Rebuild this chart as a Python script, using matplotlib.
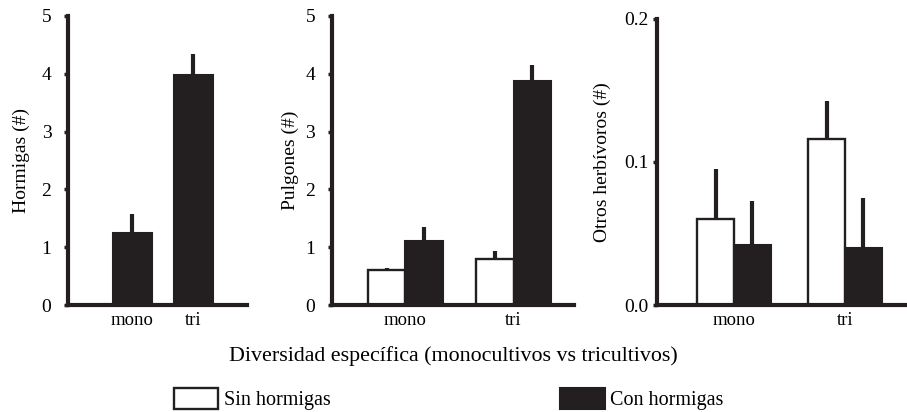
import matplotlib
matplotlib.use('Agg')
import matplotlib.pyplot as plt
import numpy as np

# ── Data ──────────────────────────────────────────────────────
groups = ["mono", "tri"]

# Hormigas: only plots with ants
hormigas_con     = [1.25, 3.98]
hormigas_con_err = [0.32, 0.36]

# Pulgones
pulgones_sin     = [0.61, 0.80]
pulgones_sin_err = [0.03, 0.14]
pulgones_con     = [1.10, 3.87]
pulgones_con_err = [0.25, 0.29]

# Otros herbivoros
otros_sin     = [0.060, 0.116]
otros_sin_err = [0.035, 0.027]
otros_con     = [0.042, 0.040]
otros_con_err = [0.031, 0.035]

BLACK = '#231f20'
plt.rcParams.update({
    'font.family': ['Liberation Serif', 'DejaVu Serif'],
    'font.size': 14,
    'axes.linewidth': 3,
})

fig = plt.figure(figsize=(9.07, 4.12), dpi=100)
ax1 = fig.add_axes([0.075, 0.2597, 0.1973, 0.7015])
ax2 = fig.add_axes([0.366, 0.2597, 0.2668, 0.7015])
ax3 = fig.add_axes([0.7244, 0.2597, 0.2756, 0.6942])

x = np.arange(len(groups))
err_kw = dict(fmt='none', ecolor=BLACK, elinewidth=3, capsize=0, zorder=1)

# Panel 1: Hormigas
w1 = 0.64
ax1.bar(x, hormigas_con, w1, color=BLACK, edgecolor=BLACK, linewidth=1.5, zorder=2)
ax1.errorbar(x, hormigas_con, yerr=[np.zeros(2), hormigas_con_err], **err_kw)
ax1.set_xlim(-1.057, 1.877)
ax1.set_ylim(0, 5)
ax1.set_yticks(range(0, 6))
ax1.set_ylabel("Hormigas (#)")
ax1.yaxis.set_label_coords(-0.215, 0.5)

# Panel 2: Pulgones
w = 0.345
b_sin = ax2.bar(x - w/2, pulgones_sin, w, color='white', edgecolor=BLACK, linewidth=1.7, zorder=2)
b_con = ax2.bar(x + w/2, pulgones_con, w, color=BLACK, edgecolor=BLACK, linewidth=1.5, zorder=2)
ax2.errorbar(x - w/2, pulgones_sin, yerr=[np.zeros(2), pulgones_sin_err], **err_kw)
ax2.errorbar(x + w/2, pulgones_con, yerr=[np.zeros(2), pulgones_con_err], **err_kw)
ax2.set_xlim(-0.679, 1.557)
ax2.set_ylim(0, 5)
ax2.set_yticks(range(0, 6))
ax2.set_ylabel("Pulgones (#)")
ax2.yaxis.set_label_coords(-0.135, 0.5)

# Panel 3: Otros herbivoros
w3 = 0.33
ax3.bar(x - w3/2, otros_sin, w3, color='white', edgecolor=BLACK, linewidth=1.7, zorder=2)
ax3.bar(x + w3/2, otros_con, w3, color=BLACK, edgecolor=BLACK, linewidth=1.5, zorder=2)
ax3.errorbar(x - w3/2, otros_sin, yerr=[np.zeros(2), otros_sin_err], **err_kw)
ax3.errorbar(x + w3/2, otros_con, yerr=[np.zeros(2), otros_con_err], **err_kw)
ax3.set_xlim(-0.694, 1.559)
ax3.set_ylim(0, 0.2)
ax3.set_yticks([0.0, 0.1, 0.2])
ax3.set_yticklabels(["0.0", "0.1", "0.2"])
ax3.set_ylabel("Otros herbívoros (#)")
ax3.yaxis.set_label_coords(-0.185, 0.5)

for ax, pad in [(ax1, 9), (ax2, 9), (ax3, 3)]:
    ax.spines['top'].set_visible(False)
    ax.spines['right'].set_visible(False)
    for s in ['left', 'bottom']:
        ax.spines[s].set_color(BLACK)
    ax.set_xticks(x)
    ax.set_xticklabels(groups, fontsize=13.5)
    ax.tick_params(axis='x', length=0, pad=5)
    ax.tick_params(axis='y', direction='out', length=3, width=2.5, pad=pad, color=BLACK)

fig.text(453/907, 0.124, "Diversidad específica (monocultivos vs tricultivos)",
         ha='center', va='baseline', fontsize=15.8)

fig.legend([b_sin, b_con], ["Sin hormigas", "Con hormigas"],
           loc='lower left', bbox_to_anchor=(174/907, 2/412), ncol=2,
           frameon=False, borderpad=0, borderaxespad=0, fontsize=14.5,
           handlelength=2.2, handleheight=1.2, handletextpad=0.28,
           columnspacing=11.4)

plt.savefig("out.png", dpi=100)
